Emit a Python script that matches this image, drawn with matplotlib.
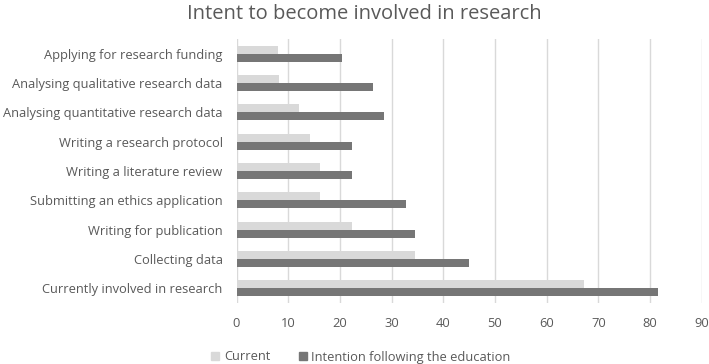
import numpy as np
import matplotlib
import matplotlib.pyplot as plt
from matplotlib.patches import Patch
matplotlib.use('Agg')

plt.rcParams['font.family'] = ['Open Sans', 'DejaVu Sans']

categories = [
    'Applying for research funding',
    'Analysing qualitative research data',
    'Analysing quantitative research data',
    'Writing a research protocol',
    'Writing a literature review',
    'Submitting an ethics application',
    'Writing for publication',
    'Collecting data',
    'Currently involved in research',
]
current = [8.1, 8.2, 12.1, 14.2, 16.2, 16.2, 22.3, 34.6, 67.2]
intention = [20.4, 26.5, 28.6, 22.4, 22.4, 32.7, 34.6, 44.9, 81.6]
xticks = [0, 10, 20, 30, 40, 50, 60, 70, 80, 90]

text_col = '#595959'
light = '#d9d9d9'
dark = '#767676'

fig = plt.figure(figsize=(7.09, 3.64), dpi=100)
ax = fig.add_axes([236.5/709, 1 - 303/364, (701.7 - 236.5)/709, (303 - 39)/364])

y = np.arange(len(categories))
h = 0.273
ax.barh(y - h/2, current, height=h, color=light, zorder=3)
ax.barh(y + h/2, intention, height=h, color=dark, zorder=3)

ax.set_xlim(0, 90)
ax.set_ylim(len(categories) - 0.5, -0.5)
ax.set_xticks(xticks)
ax.set_yticks(y)
ax.set_yticklabels(categories)
ax.grid(axis='x', color='#d9d9d9', linewidth=1, zorder=0)
for s in ax.spines.values():
    s.set_visible(False)
ax.tick_params(axis='both', length=0, colors=text_col, labelsize=9.3)
ax.tick_params(axis='y', pad=10)
ax.tick_params(axis='x', pad=10)

fig.suptitle('Intent to become involved in research', x=0.514, y=0.99,
             fontsize=14.5, color=text_col)

handles = [Patch(color=light, label='Current'),
           Patch(color=dark, label='Intention following the education')]
fig.legend(handles=handles, loc='center', bbox_to_anchor=(361/709, 1 - 357/364),
           ncol=2, frameon=False, fontsize=9.3, labelcolor=text_col,
           handlelength=0.62, handleheight=0.62, handletextpad=0.35, columnspacing=2.2)

fig.savefig('out.png', dpi=100)
